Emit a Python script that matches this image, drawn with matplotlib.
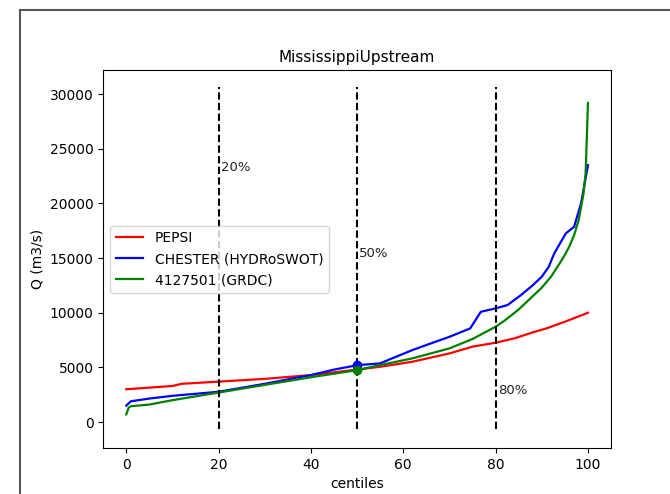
import matplotlib
matplotlib.use("Agg")
from matplotlib import pyplot as plt
from matplotlib.patches import Rectangle

pepsi_x = [0, 5, 10, 12, 20, 30, 40, 50, 55, 62, 70, 75, 80, 84, 88, 91, 95, 100]
pepsi_q = [3000, 3150, 3300, 3500, 3700, 3950, 4300, 4800, 5060, 5520, 6280, 6900,
           7260, 7650, 8200, 8570, 9180, 10000]

chester_x = [0, 1, 5, 10, 20, 30, 40, 45, 50, 55, 58, 62, 66, 70, 74.5, 76.8, 80,
             82.6, 85.5, 88, 90, 91.5, 92.7, 95.2, 97, 98.5, 100]
chester_q = [1500, 1900, 2150, 2400, 2770, 3500, 4300, 4800, 5200, 5370, 5900, 6590,
             7200, 7800, 8570, 10090, 10400, 10710, 11620, 12500, 13300, 14200,
             15430, 17260, 17870, 20000, 23500]

grdc_x = [0, 0.5, 1, 5, 10, 20, 30, 40, 50, 55, 62, 70, 75, 80, 82, 85, 88, 90, 92,
          94, 95, 96, 97, 98, 99, 99.5, 100]
grdc_q = [700, 1300, 1450, 1600, 2000, 2700, 3400, 4100, 4750, 5210, 5830, 6740,
          7600, 8720, 9300, 10300, 11500, 12300, 13300, 14600, 15300, 16100, 17100,
          18500, 20800, 22800, 29200]

markers_x = [20, 50, 80]
markers_txt = ["20%", "50%", "80%"]
markers_txt_y = [23300, 15400, 2850]

fig = plt.figure(figsize=(6.7, 4.94), dpi=100)
fig.patches.append(Rectangle((20 / 670, -0.1), 1.0, 1.1 - 10 / 494,
                             transform=fig.transFigure, fill=False,
                             edgecolor="#555555", linewidth=1.5))
ax = fig.add_axes([0.154, 0.093, 0.758, 0.765])

ax.plot(pepsi_x, pepsi_q, color="red", linewidth=1.6, label="PEPSI")
ax.plot(chester_x, chester_q, color="blue", linewidth=1.6, label="CHESTER (HYDRoSWOT)")
ax.plot(grdc_x, grdc_q, color="green", linewidth=1.6, label="4127501 (GRDC)")

ax.plot([50], [5200], "o", color="blue", markersize=6, zorder=4)
ax.plot([50], [4750], "o", color="green", markersize=6, zorder=4)

for xv, txt, ty in zip(markers_x, markers_txt, markers_txt_y):
    ax.vlines(xv, -650, 30650, colors="black", linestyles=(0, (3.5, 1.6)), linewidth=1.5)
    ax.text(xv + 0.5, ty, txt, fontsize=9.5, color="#222222", va="center")

ax.set_xlim(-5, 105)
ax.set_ylim(-2380, 32200)
ax.set_xticks([0, 20, 40, 60, 80, 100])
ax.set_yticks([0, 5000, 10000, 15000, 20000, 25000, 30000])
ax.set_title("MississippiUpstream", fontsize=11)
ax.set_xlabel("centiles")
ax.set_ylabel("Q (m3/s)")
ax.legend(loc="center left")

fig.savefig("out.png", dpi=100)
plt.close(fig)
